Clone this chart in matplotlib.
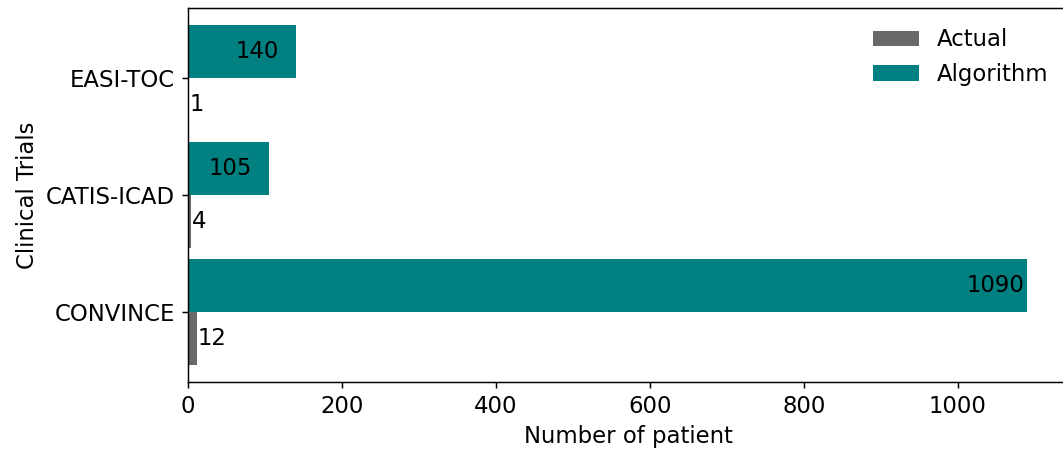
import matplotlib
matplotlib.use("Agg")
import matplotlib.pyplot as plt
import numpy as np

trials = ["CONVINCE", "CATIS-ICAD", "EASI-TOC"]
actual = [12, 4, 1]
algorithm = [1090, 105, 140]

DPI = 133
W, H = 1063, 457
FS = 12.3
fig = plt.figure(figsize=(W / DPI, H / DPI), dpi=DPI)
# axes run slightly past the right edge of the canvas
ax = fig.add_axes([188 / W, 1 - 382 / H, (1069 - 188) / W, (382 - 8) / H])

y = np.arange(len(trials))
h = 0.45

ax.barh(y - h / 2, actual, height=h, color="#696969", label="Actual")
ax.barh(y + h / 2, algorithm, height=h, color="#008080", label="Algorithm")

for yi, v in zip(y, actual):
    ax.text(v + 1, yi - h / 2, str(v), ha="left", va="center", fontsize=FS)
for yi, v in zip(y, algorithm):
    ax.text(v - 78, yi + h / 2, str(v), ha="left", va="center", fontsize=FS)

ax.set_yticks(y)
ax.set_yticklabels(trials, fontsize=FS)
ax.tick_params(axis="x", labelsize=FS)
ax.set_xlim(0, 1144.5)
ax.set_xlabel("Number of patient", fontsize=FS)
ax.set_ylabel("Clinical Trials", fontsize=FS)
ax.legend(loc="upper right", frameon=False, fontsize=FS)

fig.savefig("out.png", dpi=DPI)
